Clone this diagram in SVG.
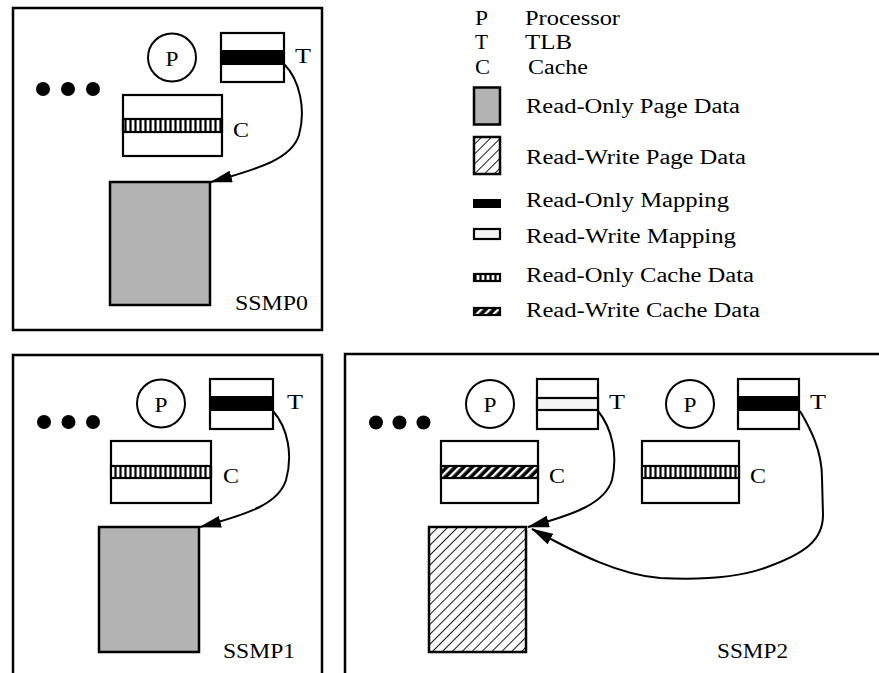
<svg xmlns="http://www.w3.org/2000/svg" width="879" height="673" viewBox="0 0 879 673">
<style>
  text { font-family: "Liberation Serif", "Times New Roman", serif; font-size: 20px; fill: #000; }
  .lbl { font-size: 22px; }
  .frame { fill: #fff; stroke: #000; stroke-width: 2.5; }
  .box { fill: #fff; stroke: #000; stroke-width: 2.2; }
  .page-ro { fill: #b3b3b3; stroke: #000; stroke-width: 2.5; }
  .page-rw { fill: url(#hatchPage); stroke: #000; stroke-width: 2.5; }
  .map-ro { fill: #000; stroke: #000; stroke-width: 2; }
  .map-rw { fill: #f4f4f4; stroke: #000; stroke-width: 2.2; }
  .cache-ro { fill: url(#stripeCache); stroke: #000; stroke-width: 2.2; }
  .cache-rw { fill: url(#hatchCache); stroke: #000; stroke-width: 2.2; }
  .proc { fill: #fff; stroke: #000; stroke-width: 2; }
  .dot { fill: #000; }
  .conn { fill: none; stroke: #000; stroke-width: 2; marker-end: url(#arrow); }
</style>
<defs>
  <pattern id="hatchPage" patternUnits="userSpaceOnUse" width="7" height="7" patternTransform="rotate(45)">
    <rect width="7" height="7" fill="#fff"/>
    <line x1="3.5" y1="0" x2="3.5" y2="7" stroke="#000" stroke-width="0.9"/>
  </pattern>
  <pattern id="hatchCache" patternUnits="userSpaceOnUse" width="6" height="6" patternTransform="rotate(45)">
    <rect width="6" height="6" fill="#000"/>
    <rect x="0" y="0" width="2.4" height="6" fill="#fff"/>
  </pattern>
  <pattern id="stripeCache" patternUnits="userSpaceOnUse" width="5" height="20">
    <rect width="5" height="20" fill="#000"/>
    <rect x="1.6" y="0" width="2.8" height="20" fill="#fff"/>
  </pattern>
  <marker id="arrow" markerUnits="userSpaceOnUse" viewBox="0 0 22 12" refX="21" refY="6" markerWidth="22" markerHeight="12" orient="auto">
    <path d="M0,0 L22,6 L0,12 Z" fill="#000"/>
  </marker>
</defs>

<rect width="879" height="673" fill="#fff"/>

<!-- SSMP0 -->
<g id="ssmp0">
  <rect class="frame" x="13" y="8" width="309" height="322"/>
  <g id="ssmp0-dots">
    <circle class="dot" cx="43" cy="89" r="7"/>
    <circle class="dot" cx="68" cy="89" r="7"/>
    <circle class="dot" cx="93" cy="89" r="7"/>
  </g>
  <g id="ssmp0-proc">
    <circle class="proc" cx="172" cy="57.5" r="24"/>
    <text class="lbl" x="165.5" y="65.5" textLength="13" lengthAdjust="spacingAndGlyphs">P</text>
  </g>
  <g id="ssmp0-tlb">
    <rect class="box" x="221" y="33" width="63" height="49"/>
    <rect class="map-ro" x="221" y="51" width="63" height="13"/>
    <text class="lbl" x="295" y="63" textLength="16" lengthAdjust="spacingAndGlyphs">T</text>
  </g>
  <g id="ssmp0-cache">
    <rect class="box" x="123" y="95" width="99" height="61"/>
    <rect class="cache-ro" x="123" y="119" width="99" height="13"/>
    <text class="lbl" x="233" y="137" textLength="16" lengthAdjust="spacingAndGlyphs">C</text>
  </g>
  <g id="ssmp0-page">
    <rect class="page-ro" x="110" y="182" width="100" height="123"/>
  </g>
  <text x="235" y="310" textLength="73" lengthAdjust="spacingAndGlyphs">SSMP0</text>
</g>

<!-- SSMP1 -->
<g id="ssmp1">
  <rect class="frame" x="13" y="355" width="309" height="340"/>
  <g id="ssmp1-dots">
    <circle class="dot" cx="44" cy="422" r="7"/>
    <circle class="dot" cx="68.5" cy="422" r="7"/>
    <circle class="dot" cx="93" cy="422" r="7"/>
  </g>
  <g id="ssmp1-proc">
    <circle class="proc" cx="161" cy="403.5" r="24"/>
    <text class="lbl" x="154.5" y="411.5" textLength="13" lengthAdjust="spacingAndGlyphs">P</text>
  </g>
  <g id="ssmp1-tlb">
    <rect class="box" x="210" y="379" width="63" height="50"/>
    <rect class="map-ro" x="210" y="397" width="63" height="13"/>
    <text class="lbl" x="287" y="409" textLength="16" lengthAdjust="spacingAndGlyphs">T</text>
  </g>
  <g id="ssmp1-cache">
    <rect class="box" x="111" y="441" width="100" height="62"/>
    <rect class="cache-ro" x="111" y="466" width="100" height="12"/>
    <text class="lbl" x="223" y="483" textLength="16" lengthAdjust="spacingAndGlyphs">C</text>
  </g>
  <g id="ssmp1-page">
    <rect class="page-ro" x="99" y="527" width="100" height="125"/>
  </g>
  <text x="223" y="658" textLength="72" lengthAdjust="spacingAndGlyphs">SSMP1</text>
</g>

<!-- SSMP2 -->
<g id="ssmp2">
  <rect class="frame" x="345" y="354" width="560" height="340"/>
  <g id="ssmp2-dots">
    <circle class="dot" cx="376" cy="422.5" r="7"/>
    <circle class="dot" cx="399.5" cy="422.5" r="7"/>
    <circle class="dot" cx="423.5" cy="422.5" r="7"/>
  </g>
  <g id="ssmp2-proc1">
    <circle class="proc" cx="490" cy="404" r="24"/>
    <text class="lbl" x="483.5" y="412" textLength="13" lengthAdjust="spacingAndGlyphs">P</text>
  </g>
  <g id="ssmp2-tlb1">
    <rect class="box" x="537" y="379" width="61" height="50"/>
    <rect class="map-rw" x="537" y="398" width="61" height="12"/>
    <text class="lbl" x="609" y="409" textLength="16" lengthAdjust="spacingAndGlyphs">T</text>
  </g>
  <g id="ssmp2-cache1">
    <rect class="box" x="441" y="441" width="97" height="62"/>
    <rect class="cache-rw" x="441" y="466" width="97" height="12"/>
    <text class="lbl" x="549" y="483" textLength="16" lengthAdjust="spacingAndGlyphs">C</text>
  </g>
  <g id="ssmp2-proc2">
    <circle class="proc" cx="690" cy="404" r="24"/>
    <text class="lbl" x="683.5" y="412" textLength="13" lengthAdjust="spacingAndGlyphs">P</text>
  </g>
  <g id="ssmp2-tlb2">
    <rect class="box" x="738" y="379" width="61" height="50"/>
    <rect class="map-ro" x="738" y="397" width="61" height="13"/>
    <text class="lbl" x="810" y="409" textLength="16" lengthAdjust="spacingAndGlyphs">T</text>
  </g>
  <g id="ssmp2-cache2">
    <rect class="box" x="642" y="441" width="97" height="62"/>
    <rect class="cache-ro" x="642" y="466" width="97" height="12"/>
    <text class="lbl" x="750" y="483" textLength="16" lengthAdjust="spacingAndGlyphs">C</text>
  </g>
  <g id="ssmp2-page">
    <rect class="page-rw" x="429" y="527" width="97" height="125"/>
  </g>
  <text x="717" y="658" textLength="71" lengthAdjust="spacingAndGlyphs">SSMP2</text>
</g>

<!-- Connectors -->
<g id="connectors">
  <path class="conn" d="M284,64 C300,80 306,110 299,135 C292,158 262,168 211,182"/>
  <path class="conn" d="M273,411 C288,428 293,455 286,480 C279,503 250,514 200,527"/>
  <path class="conn" d="M598,411 C612,428 618,455 612,480 C605,503 576,514 528,527"/>
  <path class="conn" d="M800,411 C810,428 822,450 822,478 L823,515 C823,540 805,553 770,566 C740,578 700,580 660,578 C620,575 580,555 532,529"/>
</g>

<!-- Legend -->
<g id="legend">
  <text x="475" y="25" textLength="13" lengthAdjust="spacingAndGlyphs">P</text>
  <text x="525" y="25" textLength="95" lengthAdjust="spacingAndGlyphs">Processor</text>
  <text x="475" y="49" textLength="13" lengthAdjust="spacingAndGlyphs">T</text>
  <text x="525" y="49" textLength="47" lengthAdjust="spacingAndGlyphs">TLB</text>
  <text x="475" y="74" textLength="15" lengthAdjust="spacingAndGlyphs">C</text>
  <text x="528" y="74" textLength="60" lengthAdjust="spacingAndGlyphs">Cache</text>

  <rect class="page-ro" x="474" y="87.5" width="26" height="37"/>
  <text x="526" y="113" textLength="214" lengthAdjust="spacingAndGlyphs">Read-Only Page Data</text>

  <rect class="page-rw" x="474" y="137" width="26" height="37"/>
  <text x="526" y="164" textLength="220" lengthAdjust="spacingAndGlyphs">Read-Write Page Data</text>

  <rect class="map-ro" x="474" y="200" width="26" height="7"/>
  <text x="526" y="207" textLength="203" lengthAdjust="spacingAndGlyphs">Read-Only Mapping</text>

  <rect class="map-rw" x="474" y="229" width="26" height="10"/>
  <text x="526" y="243" textLength="210" lengthAdjust="spacingAndGlyphs">Read-Write Mapping</text>

  <rect class="cache-ro" x="474" y="274" width="26" height="7"/>
  <text x="526" y="282" textLength="228" lengthAdjust="spacingAndGlyphs">Read-Only Cache Data</text>

  <rect class="cache-rw" x="474" y="308" width="26" height="7"/>
  <text x="526" y="317" textLength="234" lengthAdjust="spacingAndGlyphs">Read-Write Cache Data</text>
</g>
</svg>
